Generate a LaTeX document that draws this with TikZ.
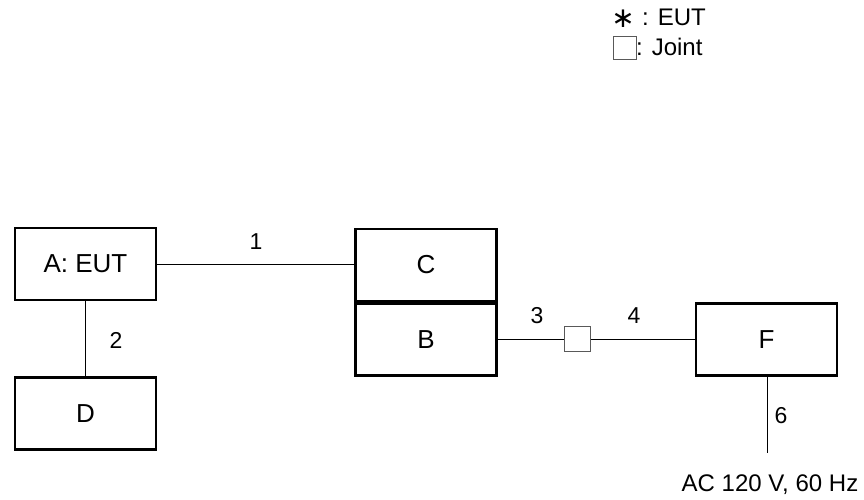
\documentclass[tikz,border=0pt]{standalone}
\usepackage{fontspec}
\setmainfont{Liberation Sans}
\newfontfamily\symfont{DejaVu Sans}
\begin{document}
\begin{tikzpicture}[x=1pt,y=-1pt,
  unit/.style={draw, line width=2.8pt, minimum width=141pt, minimum height=72pt,
    inner sep=0pt, font=\fontsize{26}{30}\selectfont},
  joint/.style={draw=black!65, line width=1pt, minimum width=26pt, minimum height=25pt, inner sep=0pt},
  cable/.style={line width=1pt},
  lbl/.style={font=\fontsize{23}{27}\selectfont, inner sep=0pt},
  legend/.style={font=\fontsize{24}{28}\selectfont, inner sep=0pt, anchor=west}]
\useasboundingbox (0,0) rectangle (864,500);
% equipment boxes
\node[unit] (A) at (85.5,264) {A: EUT};
\node[unit] (D) at (85.5,413.5) {D};
\node[unit] (C) at (426,265) {C};
\node[unit] (B) at (426,339.5) {B};
\node[unit] (F) at (766.5,339.5) {F};
\node[joint] (J) at (577.5,339) {};
\coordinate (P) at (767,453);
% cables
\draw[cable] (A.east |- 0,264) -- (C.west |- 0,264);
\draw[cable] (A.south) -- (D.north);
\draw[cable] (B.east |- J.west) -- (J.west);
\draw[cable] (J.east) -- (F.west |- J.east);
\draw[cable] (F.south -| P) -- (P);
% cable numbers
\node[lbl] (n1) at (256,242) {1};
\node[lbl] (n2) at (116,340) {2};
\node[lbl] (n3) at (537,316) {3};
\node[lbl] (n4) at (634,316) {4};
\node[lbl] (n6) at (781,416) {6};
\node[lbl, font=\fontsize{24}{28}\selectfont] (ac) at (770,485) {AC 120 V, 60 Hz};
% legend
\node[inner sep=0pt, font=\symfont\fontsize{28}{30}\selectfont] (ast) at (623,19) {∗};
\node[legend] (leut) at (642,17) {: EUT};
\node[joint, minimum width=23pt, minimum height=23pt] (lj) at (624.5,48.5) {};
\node[legend] (ljoint) at (636,47) {: Joint};
\end{tikzpicture}
\end{document}
